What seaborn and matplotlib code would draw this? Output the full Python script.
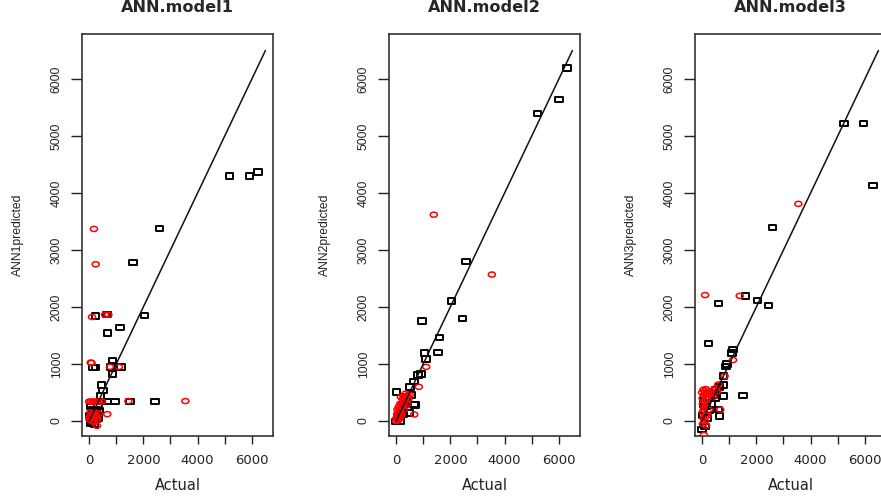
import numpy as np
import pandas as pd
import matplotlib
matplotlib.use("Agg")
import matplotlib.pyplot as plt
import seaborn as sns
from matplotlib.path import Path

# ---- data (actual, predicted) ----
# ANN.model1
m1_train_actual = [5180, 5920, 6230, 2590, 1630, 2050, 1130, 680, 680, 640, 240, 860, 870, 1180, 820,
                   240, 150, 460, 520, 420, 420, 660, 960, 1520, 2440,
                   50, 120, 200, 300, 350, 100, 250, 50, 380, 320, 150, 30, 80, 200, 280]
m1_train_pred = [4300, 4300, 4370, 3380, 2780, 1850, 1640, 1545, 1865, 1865, 1845, 1060, 825, 950, 950,
                 935, 935, 630, 540, 440, 340, 340, 340, 340, 340,
                 250, 200, 150, 100, 50, 0, 30, -30, 180, 250, 60, 100, -40, -50, 200]
m1_test_actual = [180, 245, 110, 590, 710, 60, 90, 770, 1100, 1450, 3550, 670, 290,
                  0, 60, 120, 180, 240, 300, 360, 480,
                  20, 60, 100, 150, 200, 250, 300, 50, 120, 180, 80, 220, 280, 350, 10]
m1_test_pred = [3370, 2750, 1825, 1865, 1865, 1025, 1020, 950, 950, 350, 350, 120, -85,
                340, 340, 340, 340, 340, 340, 340, 340,
                20, 80, 40, 120, 60, 100, 20, 150, 0, -20, 110, 150, 60, 130, 60]

# ANN.model2
m2_train_actual = [6300, 6000, 5220, 2580, 2040, 2450, 960, 1600, 1540, 1050, 1110, 920, 800, 670,
                   520, 670, 10, 700, 560, 400, 300, 200, 100, 0, 150, 500, 250, 350]
m2_train_pred = [6190, 5640, 5400, 2800, 2105, 1800, 1755, 1465, 1200, 1190, 1085, 825, 810, 690,
                 600, 290, 510, 280, 460, 380, 300, 180, 60, -10, 0, 140, 120, 420]
m2_test_actual = [1390, 3530, 1110, 840, 670,
                  0, 30, 60, 100, 80, 130, 160, 200, 220, 260, 300, 340, 380, 420, 250, 150, 100,
                  50, 200, 300, 400, 120, 40, 350, 450, 500, 280, 180, 20, 70]
m2_test_pred = [3620, 2570, 950, 600, 115,
                0, 30, 80, 100, 150, 200, 170, 250, 300, 280, 350, 400, 420, 450, 380, 300, 250,
                200, 100, 200, 300, 40, 120, 480, 380, 460, 430, 420, 60, 10]

# ANN.model3
m3_train_actual = [5230, 5950, 6300, 2600, 1600, 2040, 2450, 610, 235, 1110, 1150, 920, 880, 795,
                   795, 1515, 795, 640, 600, 500, 400, 300, 200, 100, 50, 0, 100, 200, 350, 250,
                   150, 500, 650, 20]
m3_train_pred = [5220, 5220, 4135, 3400, 2190, 2110, 2025, 2065, 1360, 1190, 1250, 1000, 960, 790,
                 630, 445, 440, 90, 200, 550, 450, 500, 400, 420, 300, -150, -100, 50, 300, 180,
                 250, 400, 600, 100]
m3_test_actual = [110, 1390, 3550, 1140, 830, 670, 70,
                  0, 50, 100, 150, 200, 250, 300, 350, 20, 80, 150, 30, 100, 60, 20, 120, 50,
                  100, 30, 150, 200, 250, 80, 180, 400, 450, 520, 550, 600]
m3_test_pred = [2210, 2195, 3810, 1070, 790, 200, -245,
                500, 550, 520, 560, 500, 480, 520, 470, 400, 350, 380, 300, 250, 200, 150, 100,
                50, 0, -50, -80, 100, 200, 450, 300, 420, 550, 580, 520, 640]

ref_line = [0, 6500]

panels = [
    ("ANN.model1", "ANN1predicted", m1_train_actual, m1_train_pred, m1_test_actual, m1_test_pred),
    ("ANN.model2", "ANN2predicted", m2_train_actual, m2_train_pred, m2_test_actual, m2_test_pred),
    ("ANN.model3", "ANN3predicted", m3_train_actual, m3_train_pred, m3_test_actual, m3_test_pred),
]

sns.set_style("ticks")
plt.rcParams["font.family"] = ["DejaVu Sans"]

# slightly wide markers, like the stretched R output
rect = Path([(-0.7, -0.5), (0.7, -0.5), (0.7, 0.5), (-0.7, 0.5), (-0.7, -0.5)],
            [Path.MOVETO, Path.LINETO, Path.LINETO, Path.LINETO, Path.CLOSEPOLY])
circ = Path.unit_circle()
ellipse = Path(circ.vertices * np.array([1.4, 1.0]), circ.codes)

fig = plt.figure(figsize=(8.81, 4.99), dpi=100)
W, H = 881, 499
lefts = [82, 389, 695]
for left, (title, ylab, ta, tp, va, vp) in zip(lefts, panels):
    ax = fig.add_axes([left / W, 1 - 436 / H, 191 / W, 402 / H])
    train = pd.DataFrame({"actual": ta, "pred": tp})
    test = pd.DataFrame({"actual": va, "pred": vp})
    sns.scatterplot(data=train, x="actual", y="pred", ax=ax, marker=rect, s=30,
                    facecolor="none", edgecolor="black", linewidth=1.4, zorder=2)
    sns.scatterplot(data=test, x="actual", y="pred", ax=ax, marker=ellipse, s=26,
                    facecolor="none", edgecolor="red", linewidth=1.1, zorder=3)
    sns.lineplot(x=ref_line, y=ref_line, ax=ax, color="#111111", linewidth=1.1, zorder=4)

    ax.set_xlim(-260, 6780)
    ax.set_ylim(-263, 6790)
    ax.set_xticks(range(0, 7000, 1000))
    ax.set_xticklabels(["0", "", "2000", "", "4000", "", "6000"])
    ax.set_yticks(range(0, 7000, 1000))
    ax.tick_params(axis="x", length=5.8, width=1, pad=7, labelsize=9.5, colors="#222222")
    ax.tick_params(axis="y", length=7.9, width=1, pad=6, colors="#222222")
    for lbl in ax.get_yticklabels():
        lbl.set_rotation(90)
        lbl.set_va("center")
        lbl.set_family(["Liberation Sans", "DejaVu Sans"])
        lbl.set_fontsize(8.7)
    for sp in ax.spines.values():
        sp.set_color("#333333")
        sp.set_linewidth(1.2)

    ax.set_title(title, fontsize=11.6, fontweight="bold", y=1.065, va="center", pad=0)
    ax.set_xlabel("Actual", fontsize=10.5, color="#222222")
    ax.xaxis.set_label_coords(0.5, -50 / 402)
    ax.xaxis.label.set_va("center")
    ax.set_ylabel(ylab, fontsize=8.7, family=["Liberation Sans", "DejaVu Sans"], color="#222222")
    ax.yaxis.set_label_coords(-64 / 191, 0.5)
    ax.yaxis.label.set_va("center")

fig.savefig("out.png", dpi=100)
